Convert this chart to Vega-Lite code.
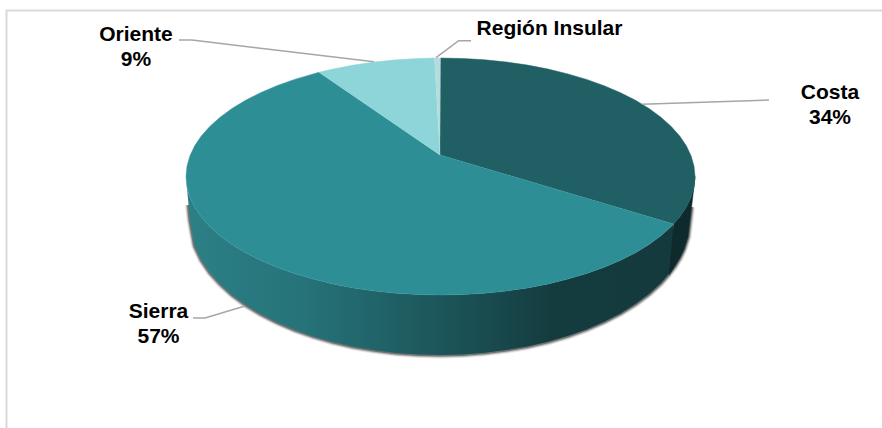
{"$schema":"https://vega.github.io/schema/vega-lite/v6.json","width":882,"height":428,"padding":0,"autosize":{"type":"none"},"background":"white","view":{"stroke":null},
"datasets":{
"frame":[{"seq":1,"x":882,"y":10.5},{"seq":2,"x":6.5,"y":10.5},{"seq":3,"x":6.5,"y":428}],
"lowerEdge":[{"x":188.5,"y":205},{"x":190,"y":220},{"x":194.7,"y":246},{"x":201.3,"y":260},{"x":209.8,"y":272.6},{"x":220.1,"y":284},{"x":232,"y":294.9},{"x":245.5,"y":304.8},{"x":260.5,"y":314},{"x":276.9,"y":322.3},{"x":294.5,"y":329.8},{"x":313.25,"y":336.4},{"x":332.9,"y":342},{"x":353.5,"y":346.7},{"x":374.6,"y":350.3},{"x":396.3,"y":352.9},{"x":418.3,"y":354.5},{"x":440.5,"y":355},{"x":462.7,"y":354.5},{"x":484.7,"y":352.8},{"x":506.4,"y":350.1},{"x":527.5,"y":346.5},{"x":548.1,"y":341.8},{"x":567.75,"y":336.1},{"x":586.5,"y":329.4},{"x":604.1,"y":321.8},{"x":620.5,"y":313.4},{"x":635.5,"y":304.1},{"x":649,"y":294.1},{"x":660.9,"y":283.2},{"x":669,"y":274},{"x":675,"y":266},{"x":680,"y":257.8},{"x":684,"y":249.4},{"x":688,"y":237},{"x":690,"y":220},{"x":691.5,"y":207}],
"wall":[{"x":186,"y":176.5,"y2":177},{"x":187,"y":186.8,"y2":188},{"x":188,"y":191.5,"y2":199},{"x":190,"y":197.5,"y2":220},{"x":194.7,"y":207.2,"y2":246},{"x":201.3,"y":217,"y2":260},{"x":209.8,"y":226.6,"y2":272.6},{"x":220.1,"y":235.75,"y2":284},{"x":232,"y":244.5,"y2":294.9},{"x":245.5,"y":252.7,"y2":304.8},{"x":260.5,"y":260.3,"y2":314},{"x":276.9,"y":267.3,"y2":322.3},{"x":294.5,"y":273.6,"y2":329.8},{"x":313.25,"y":279.1,"y2":336.4},{"x":332.9,"y":283.9,"y2":342},{"x":353.5,"y":287.9,"y2":346.7},{"x":374.6,"y":291,"y2":350.3},{"x":396.3,"y":293.2,"y2":352.9},{"x":418.3,"y":294.5,"y2":354.5},{"x":440.5,"y":295,"y2":355},{"x":462.7,"y":294.5,"y2":354.5},{"x":484.7,"y":293.2,"y2":352.8},{"x":506.4,"y":291,"y2":350.1},{"x":527.5,"y":287.9,"y2":346.5},{"x":548.1,"y":283.9,"y2":341.8},{"x":567.75,"y":279.1,"y2":336.1},{"x":586.5,"y":273.6,"y2":329.4},{"x":604.1,"y":267.3,"y2":321.8},{"x":620.5,"y":260.3,"y2":313.4},{"x":635.5,"y":252.7,"y2":304.1},{"x":649,"y":244.5,"y2":294.1},{"x":660.9,"y":235.75,"y2":283.2},{"x":671.2,"y":226.6,"y2":271.3},{"x":673.5,"y":224.1,"y2":268}],
"costaWall":[{"seq":1,"x":673.5,"y":224.1},{"seq":2,"x":679.7,"y":217},{"seq":3,"x":686.3,"y":207.2},{"seq":4,"x":691.1,"y":197.1},{"seq":5,"x":694,"y":186.8},{"seq":6,"x":695,"y":176.5},{"seq":7,"x":693,"y":195},{"seq":8,"x":690,"y":220},{"seq":9,"x":688,"y":237},{"seq":10,"x":684,"y":249.4},{"seq":11,"x":680,"y":257.8},{"seq":12,"x":675,"y":266},{"seq":13,"x":669,"y":275}],
"slices":[
{"region":"Costa","seq":0,"x":440,"y":155},{"region":"Costa","seq":1,"x":440.5,"y":58},{"region":"Costa","seq":2,"x":462.7,"y":58.5},{"region":"Costa","seq":3,"x":484.7,"y":59.8},{"region":"Costa","seq":4,"x":506.4,"y":62},{"region":"Costa","seq":5,"x":527.5,"y":65.1},{"region":"Costa","seq":6,"x":548.1,"y":69.1},{"region":"Costa","seq":7,"x":567.75,"y":73.9},{"region":"Costa","seq":8,"x":586.5,"y":79.4},{"region":"Costa","seq":9,"x":604.1,"y":85.7},{"region":"Costa","seq":10,"x":620.5,"y":92.7},{"region":"Costa","seq":11,"x":635.5,"y":100.3},{"region":"Costa","seq":12,"x":649,"y":108.5},{"region":"Costa","seq":13,"x":660.9,"y":117.25},{"region":"Costa","seq":14,"x":671.2,"y":126.4},{"region":"Costa","seq":15,"x":679.7,"y":136},{"region":"Costa","seq":16,"x":686.3,"y":145.8},{"region":"Costa","seq":17,"x":691.1,"y":155.9},{"region":"Costa","seq":18,"x":694,"y":166.2},{"region":"Costa","seq":19,"x":695,"y":176.5},{"region":"Costa","seq":20,"x":694,"y":186.8},{"region":"Costa","seq":21,"x":691.1,"y":197.1},{"region":"Costa","seq":22,"x":686.3,"y":207.2},{"region":"Costa","seq":23,"x":679.7,"y":217},{"region":"Costa","seq":24,"x":673.5,"y":224.1},
{"region":"Sierra","seq":0,"x":440,"y":155},{"region":"Sierra","seq":1,"x":673.5,"y":224.1},{"region":"Sierra","seq":2,"x":671.2,"y":226.6},{"region":"Sierra","seq":3,"x":660.9,"y":235.75},{"region":"Sierra","seq":4,"x":649,"y":244.5},{"region":"Sierra","seq":5,"x":635.5,"y":252.7},{"region":"Sierra","seq":6,"x":620.5,"y":260.3},{"region":"Sierra","seq":7,"x":604.1,"y":267.3},{"region":"Sierra","seq":8,"x":586.5,"y":273.6},{"region":"Sierra","seq":9,"x":567.75,"y":279.1},{"region":"Sierra","seq":10,"x":548.1,"y":283.9},{"region":"Sierra","seq":11,"x":527.5,"y":287.9},{"region":"Sierra","seq":12,"x":506.4,"y":291},{"region":"Sierra","seq":13,"x":484.7,"y":293.2},{"region":"Sierra","seq":14,"x":462.7,"y":294.5},{"region":"Sierra","seq":15,"x":440.5,"y":295},{"region":"Sierra","seq":16,"x":418.3,"y":294.5},{"region":"Sierra","seq":17,"x":396.3,"y":293.2},{"region":"Sierra","seq":18,"x":374.6,"y":291},{"region":"Sierra","seq":19,"x":353.5,"y":287.9},{"region":"Sierra","seq":20,"x":332.9,"y":283.9},{"region":"Sierra","seq":21,"x":313.25,"y":279.1},{"region":"Sierra","seq":22,"x":294.5,"y":273.6},{"region":"Sierra","seq":23,"x":276.9,"y":267.3},{"region":"Sierra","seq":24,"x":260.5,"y":260.3},{"region":"Sierra","seq":25,"x":245.5,"y":252.7},{"region":"Sierra","seq":26,"x":232,"y":244.5},{"region":"Sierra","seq":27,"x":220.1,"y":235.75},{"region":"Sierra","seq":28,"x":209.8,"y":226.6},{"region":"Sierra","seq":29,"x":201.3,"y":217},{"region":"Sierra","seq":30,"x":194.7,"y":207.2},{"region":"Sierra","seq":31,"x":189.9,"y":197.1},{"region":"Sierra","seq":32,"x":187,"y":186.8},{"region":"Sierra","seq":33,"x":186,"y":176.5},{"region":"Sierra","seq":34,"x":187,"y":166.2},{"region":"Sierra","seq":35,"x":189.9,"y":155.9},{"region":"Sierra","seq":36,"x":194.7,"y":145.8},{"region":"Sierra","seq":37,"x":201.3,"y":136},{"region":"Sierra","seq":38,"x":209.8,"y":126.4},{"region":"Sierra","seq":39,"x":220.1,"y":117.25},{"region":"Sierra","seq":40,"x":232,"y":108.5},{"region":"Sierra","seq":41,"x":245.5,"y":100.3},{"region":"Sierra","seq":42,"x":260.5,"y":92.7},{"region":"Sierra","seq":43,"x":276.9,"y":85.7},{"region":"Sierra","seq":44,"x":294.5,"y":79.4},{"region":"Sierra","seq":45,"x":313.25,"y":73.9},{"region":"Sierra","seq":46,"x":319,"y":72.3},
{"region":"Oriente","seq":0,"x":440,"y":155},{"region":"Oriente","seq":1,"x":319,"y":72.3},{"region":"Oriente","seq":2,"x":332.9,"y":69.1},{"region":"Oriente","seq":3,"x":353.5,"y":65.1},{"region":"Oriente","seq":4,"x":374.6,"y":62},{"region":"Oriente","seq":5,"x":396.3,"y":59.8},{"region":"Oriente","seq":6,"x":418.3,"y":58.5},{"region":"Oriente","seq":7,"x":434.5,"y":58},
{"region":"Región Insular","seq":0,"x":440,"y":155},{"region":"Región Insular","seq":1,"x":434.5,"y":58},{"region":"Región Insular","seq":2,"x":440.5,"y":58}],
"leaders":[
{"region":"Oriente","seq":1,"x":179,"y":40},{"region":"Oriente","seq":2,"x":192,"y":40},{"region":"Oriente","seq":3,"x":374,"y":61.7},
{"region":"Región Insular","seq":1,"x":436,"y":57.7},{"region":"Región Insular","seq":2,"x":458.7,"y":40.7},{"region":"Región Insular","seq":3,"x":471,"y":40.7},
{"region":"Costa","seq":1,"x":642,"y":104.3},{"region":"Costa","seq":2,"x":769,"y":100},
{"region":"Sierra","seq":1,"x":193,"y":318},{"region":"Sierra","seq":2,"x":205,"y":318},{"region":"Sierra","seq":3,"x":245,"y":306}],
"labels":[
{"region":"Costa","share":34,"label":"Costa\n34%","x":830,"y":93},
{"region":"Sierra","share":57,"label":"Sierra\n57%","x":158.5,"y":312},
{"region":"Oriente","share":9,"label":"Oriente\n9%","x":136,"y":35},
{"region":"Región Insular","share":0.4,"label":"Región Insular","x":549.5,"y":28.5}]
},
"encoding":{
"x":{"field":"x","type":"quantitative","scale":{"domain":[0,882],"nice":false,"zero":false},"axis":null},
"y":{"field":"y","type":"quantitative","scale":{"domain":[428,0],"nice":false,"zero":false},"axis":null}
},
"layer":[
{"data":{"name":"frame"},"mark":{"type":"line","stroke":"#d9d9d9","strokeWidth":2},"encoding":{"order":{"field":"seq"}}},
{"data":{"name":"lowerEdge"},"mark":{"type":"line","stroke":"#000000","strokeWidth":7,"opacity":0.1}},
{"data":{"name":"lowerEdge"},"mark":{"type":"line","stroke":"#000000","strokeWidth":5,"opacity":0.2}},
{"data":{"name":"lowerEdge"},"mark":{"type":"line","stroke":"#222222","strokeWidth":3,"opacity":0.45}},
{"data":{"name":"wall"},"mark":{"type":"area","fill":{"gradient":"linear","x1":0,"x2":1,"y1":0,"y2":0,"stops":[{"offset":0,"color":"#2b8086"},{"offset":0.23,"color":"#26747a"},{"offset":0.54,"color":"#1b5458"},{"offset":0.76,"color":"#143b3e"},{"offset":1,"color":"#143a3d"}]}},"encoding":{"y2":{"field":"y2"}}},
{"data":{"name":"costaWall"},"mark":{"type":"line","filled":true,"fill":"#0e2a2c","stroke":"#0e2a2c","strokeWidth":0.5},"encoding":{"order":{"field":"seq"}}},
{"data":{"name":"slices"},"mark":{"type":"line","filled":true,"strokeWidth":0.5},"encoding":{"order":{"field":"seq"},
"fill":{"field":"region","type":"nominal","legend":null,"scale":{"domain":["Costa","Sierra","Oriente","Región Insular"],"range":["#206064","#2e8e96","#8dd5d9","#b5dcdc"]}},
"stroke":{"field":"region","type":"nominal","legend":null,"scale":{"domain":["Costa","Sierra","Oriente","Región Insular"],"range":["#206064","#2e8e96","#8dd5d9","#b5dcdc"]}}}},
{"data":{"name":"leaders"},"mark":{"type":"line","stroke":"#a6a6a6","strokeWidth":1.5},"encoding":{"detail":{"field":"region"},"order":{"field":"seq"}}},
{"data":{"name":"labels"},"mark":{"type":"text","font":"Liberation Sans","fontWeight":"bold","fontSize":21,"lineBreak":"\n","lineHeight":25,"align":"center","baseline":"middle","color":"#000000"},"encoding":{"text":{"field":"label"}}}
]}
